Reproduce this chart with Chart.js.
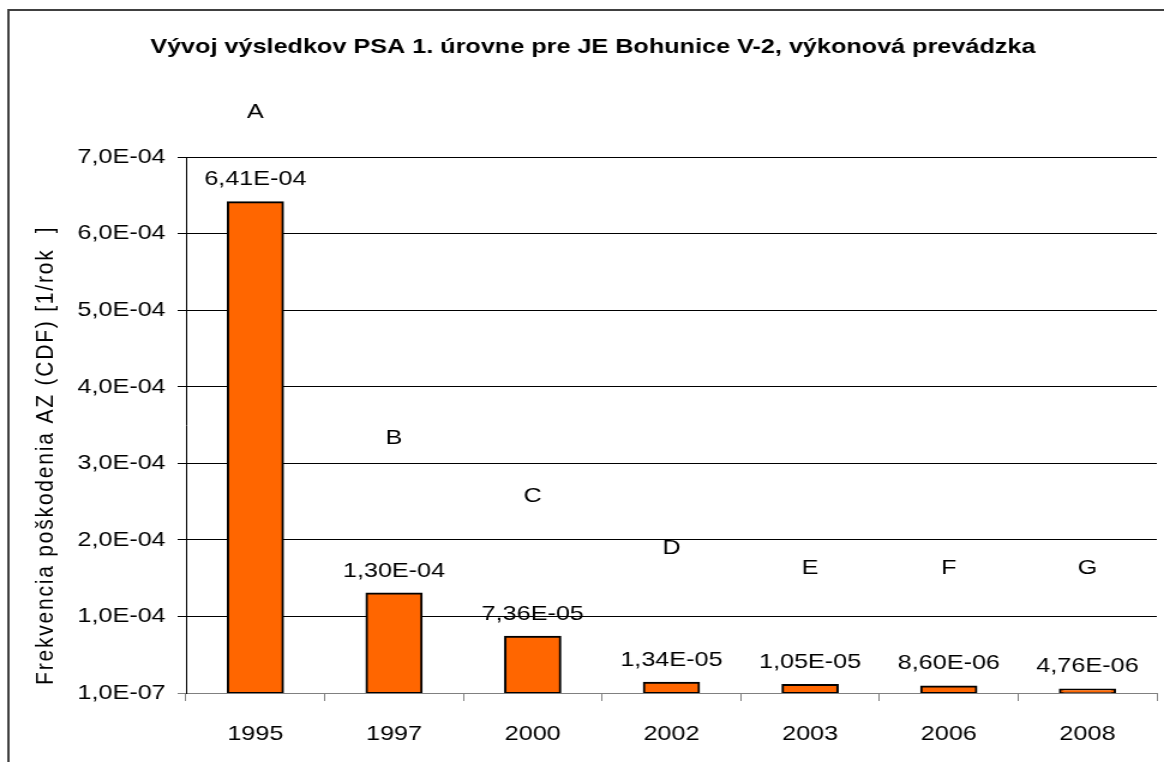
<!DOCTYPE html>
<html>
<head>
<meta charset="utf-8">
<script src="https://cdn.jsdelivr.net/npm/chart.js@4.4.1/dist/chart.umd.min.js"></script>
<style>
    body { margin: 0; background: #fff; }
    canvas { display: block; }
</style>
</head>
<body>
<!-- the original picture is stretched sideways, so the canvas is drawn narrower and widened by css -->
<canvas id="bar" width="970" height="762" style="width:1164px;height:762px"></canvas>
<script>
// data
var years = ["1995", "1997", "2000", "2002", "2003", "2006", "2008"];
var cdf = [6.41e-4, 1.30e-4, 7.36e-5, 1.34e-5, 1.05e-5, 8.60e-6, 4.76e-6];
var letters = ["A", "B", "C", "D", "E", "F", "G"];
var letterLevel = [7.58e-4, 3.33e-4, 2.57e-4, 1.89e-4, 1.63e-4, 1.63e-4, 1.63e-4];
var yMin = 1e-7;
var yStep = 1e-4;
var yCount = 7;
var yTitle = "Frekvencia poškodenia AZ (CDF) [1/rok  ]";

var FONT = "'Liberation Sans', Arial, sans-serif";

function fmt(v, d) {
    var p = v.toExponential(d).split("e");
    var e = parseInt(p[1], 10);
    var es = (e < 0 ? "-" : "+") + (Math.abs(e) < 10 ? "0" : "") + Math.abs(e);
    return p[0].replace(".", ",") + "E" + es;
}

var extras = {
    id: "extras",
    beforeDraw: function (chart) {
        var ctx = chart.ctx;
        ctx.save();
        ctx.strokeStyle = "#404040";
        ctx.lineWidth = 2;
        ctx.beginPath();
        ctx.moveTo(7, 800);
        ctx.lineTo(7, 10);
        ctx.lineTo(1000, 10);
        ctx.stroke();

        // y axis title, drawn by hand to get the wide lettering
        ctx.font = "21px " + FONT;
        ctx.fillStyle = "#000";
        ctx.letterSpacing = "1.8px";
        ctx.textAlign = "left";
        ctx.textBaseline = "alphabetic";
        ctx.translate(44, chart.chartArea.bottom - 8);
        ctx.rotate(-Math.PI / 2);
        ctx.fillText(yTitle, 0, 0);
        ctx.restore();
    },
    afterDatasetsDraw: function (chart) {
        var ctx = chart.ctx;
        var meta = chart.getDatasetMeta(0);
        var ys = chart.scales.y;
        ctx.save();
        ctx.font = "21px " + FONT;
        ctx.fillStyle = "#000";
        ctx.textAlign = "center";
        meta.data.forEach(function (bar, i) {
            ctx.textBaseline = "alphabetic";
            ctx.fillText(fmt(cdf[i], 2), bar.x, bar.y - 17);
            ctx.textBaseline = "middle";
            ctx.fillText(letters[i], bar.x, ys.getPixelForValue(letterLevel[i]));
        });
        ctx.restore();
    }
};

new Chart("bar", {
    type: "bar",
    data: {
        labels: years,
        datasets: [{
            data: cdf,
            backgroundColor: "#FF6600",
            borderColor: "#000",
            borderWidth: 2,
            borderSkipped: false,
            inflateAmount: 1,
            barPercentage: 0.8,
            categoryPercentage: 0.495
        }]
    },
    options: {
        responsive: false,
        animation: false,
        devicePixelRatio: 1,
        layout: { padding: { left: 24, right: 6, top: 0, bottom: 0 } },
        plugins: {
            legend: { display: false },
            tooltip: { enabled: false },
            title: {
                display: true,
                text: "Vývoj výsledkov PSA 1. úrovne pre JE Bohunice V-2, výkonová prevádzka",
                color: "#000",
                font: { family: FONT, size: 21, weight: "bold" },
                padding: { top: 35, bottom: 96.8 }
            }
        },
        scales: {
            x: {
                grid: {
                    display: true,
                    drawOnChartArea: false,
                    drawTicks: true,
                    tickLength: 8,
                    color: "#808080",
                    offset: true
                },
                border: { color: "#808080", width: 1 },
                ticks: {
                    color: "#000",
                    padding: 21,
                    font: { family: FONT, size: 21 }
                },
                afterFit: function (scale) { scale.height = 69; }
            },
            y: {
                min: yMin,
                max: yMin + yStep * yCount,
                afterBuildTicks: function (scale) {
                    var t = [];
                    for (var i = 0; i <= yCount; i++) t.push({ value: yMin + i * yStep });
                    scale.ticks = t;
                },
                grid: {
                    color: function (c) { return c.index === 0 ? "#808080" : "#000"; },
                    tickLength: 7
                },
                border: { color: "#000", width: 1 },
                ticks: {
                    color: "#000",
                    padding: 10,
                    font: { family: FONT, size: 21 },
                    callback: function (v) { return fmt(v, 1); }
                },
                afterFit: function (scale) { scale.width = 131; }
            }
        }
    },
    plugins: [extras]
});
</script>
</body>
</html>
